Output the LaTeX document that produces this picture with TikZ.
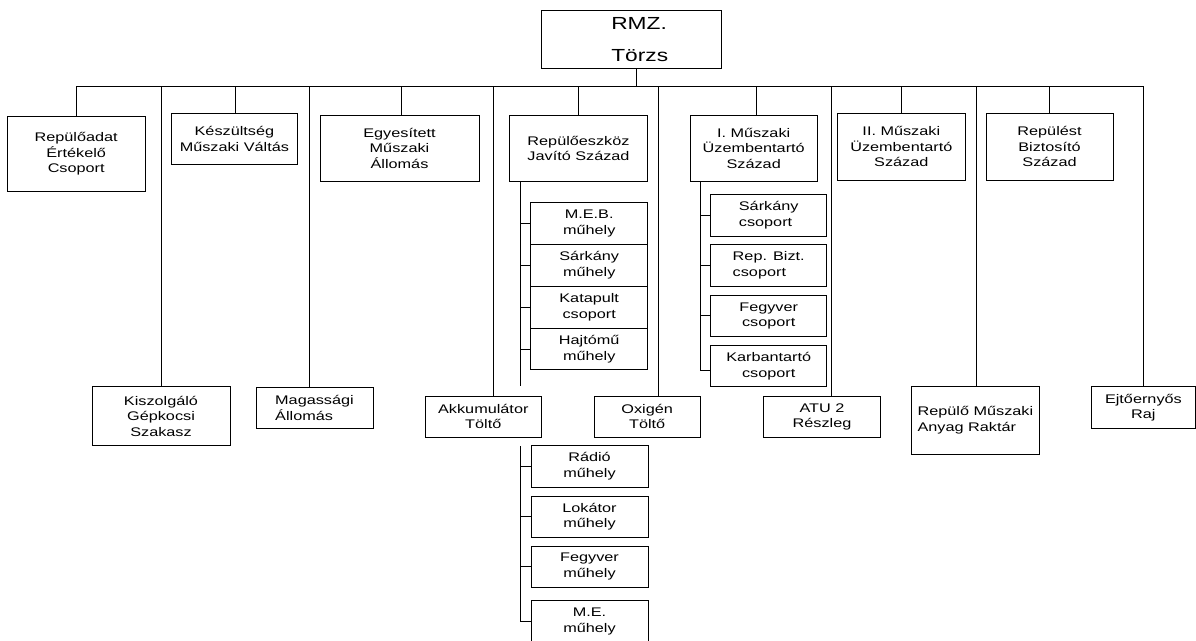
\documentclass[tikz,border=0pt]{standalone}
\usepackage{fontspec}
\setmainfont{Liberation Sans}[FakeStretch=1.3]
\begin{document}
\begin{tikzpicture}[x=1pt,y=-1pt,
  box/.style={draw=black, line width=0.9pt, inner sep=0pt, align=center,
    font=\fontsize{12.5}{15.5}\selectfont},
  lbox/.style={box, align=left},
  conn/.style={draw=black, line width=0.9pt}]
\useasboundingbox (0,0) rectangle (1196,640);
\fill[white] (0,0) rectangle (1196,640);

% top node
\node[box, minimum width=180pt, minimum height=57.6pt, align=left,
  font=\fontsize{17.5}{32}\selectfont] (rmz) at (631.7,39.5)
  {\hspace*{16pt}RMZ.\\\hspace*{16pt}Törzs};

% first row
\node[box, minimum width=137.7pt, minimum height=75.7pt] (a1) at (76.2,153.9) {Repülőadat\\Értékelő\\Csoport};
\node[box, minimum width=125.3pt, minimum height=50.5pt] (a2) at (234.4,138.8) {Készültség\\Műszaki Váltás};
\node[box, minimum width=159pt, minimum height=66.7pt] (a3) at (399.5,148.3) {Egyesített\\Műszaki\\Állomás};
\node[box, minimum width=138pt, minimum height=66.7pt] (a4) at (578.5,148.3) {Repülőeszköz\\Javító Század};
\node[box, minimum width=127.5pt, minimum height=66.7pt] (a5) at (753.7,148.3) {I. Műszaki\\Üzembentartó\\Század};
\node[box, minimum width=127.4pt, minimum height=66.7pt] (a6) at (901.3,146.7) {II. Műszaki\\Üzembentartó\\Század};
\node[box, minimum width=127pt, minimum height=66.7pt] (a7) at (1049.5,146.7) {Repülést\\Biztosító\\Század};

% lower row
\node[box, minimum width=138pt, minimum height=58.6pt] (b1) at (161,416) {Kiszolgáló\\Gépkocsi\\Szakasz};
\node[lbox, minimum width=117pt, minimum height=41.7pt] (b2) at (314.5,407.8) {Magassági\\Állomás};
\node[box, minimum width=116.7pt, minimum height=41.3pt] (b3) at (483.3,416.7) {Akkumulátor\\Töltő};
\node[box, minimum width=105.7pt, minimum height=41.3pt] (b4) at (647.2,416.7) {Oxigén\\Töltő};
\node[box, minimum width=117pt, minimum height=41.3pt] (b5) at (822,416.7) {ATU 2\\Részleg};
\node[lbox, minimum width=127.2pt, minimum height=67.3pt] (b6) at (975.4,420.3) {Repülő Műszaki\\Anyag Raktár};
\node[box, minimum width=103.6pt, minimum height=41.6pt] (b7) at (1143.4,407.5) {Ejtőernyős\\Raj};

% stack under Repülőeszköz Javító Század
\node[box, minimum width=117pt, minimum height=41.8pt] (m1) at (589.2,223.6) {M.E.B.\\műhely};
\node[box, minimum width=117pt, minimum height=41.8pt] (m2) at (589.2,265.4) {Sárkány\\műhely};
\node[box, minimum width=117pt, minimum height=41.8pt] (m3) at (589.2,307.2) {Katapult\\csoport};
\node[box, minimum width=117pt, minimum height=41.8pt] (m4) at (589.2,349.0) {Hajtómű\\műhely};

% second stack
\node[box, minimum width=117pt, minimum height=42pt] (r1) at (589.5,466) {Rádió\\műhely};
\node[box, minimum width=117pt, minimum height=41.3pt] (r2) at (589.5,516.7) {Lokátor\\műhely};
\node[box, minimum width=117pt, minimum height=41.3pt] (r3) at (589.5,566.7) {Fegyver\\műhely};
\node[box, minimum width=117pt, minimum height=41.5pt] (r4) at (589.5,621.5) {M.E.\\műhely};

% stack under I. Műszaki Üzembentartó Század
\node[lbox, minimum width=116pt, minimum height=42pt] (s1) at (768.7,215) {Sárkány\\csoport};
\node[lbox, minimum width=116pt, minimum height=42.4pt] (s2) at (768.7,265.5) {Rep. Bizt.\\csoport};
\node[box, minimum width=116pt, minimum height=41.7pt] (s3) at (768.7,315.9) {Fegyver\\csoport};
\node[box, minimum width=116pt, minimum height=41pt] (s4) at (768.7,366.2) {Karbantartó\\csoport};

% bus coordinates
\coordinate (d0) at (636.9,86);
\coordinate (d1) at (76.7,86);
\coordinate (d2) at (235,86);
\coordinate (d3) at (401.5,86);
\coordinate (d4) at (578.5,86);
\coordinate (d5) at (756,86);
\coordinate (d6) at (901.5,86);
\coordinate (d7) at (1049,86);
\coordinate (e1) at (161.5,86);
\coordinate (e2) at (309.6,86);
\coordinate (e3) at (493.3,86);
\coordinate (e4) at (658,86);
\coordinate (e5) at (831.5,86);
\coordinate (e6) at (976,86);
\coordinate (e7) at (1143.5,86);

\draw[conn] (d1) -- (e7);
\draw[conn] (d0 |- rmz.south) -- (d0);
\foreach \d/\n in {d1/a1,d2/a2,d3/a3,d4/a4,d5/a5,d6/a6,d7/a7,
                   e1/b1,e2/b2,e3/b3,e4/b4,e5/b5,e6/b6,e7/b7}
  \draw[conn] (\d) -- (\d |- \n.north);

% brackets
\coordinate (k1) at (520.5,181.7);
\coordinate (k1e) at (520.5,386);
\draw[conn] (k1 |- a4.south) -- (k1e);
\foreach \n in {m1,m2,m3,m4}
  \draw[conn] (\n.west) -- (\n.west -| k1);

\coordinate (k2) at (520.5,446);
\draw[conn] (k2) |- (r4.west);
\foreach \n in {r1,r2,r3}
  \draw[conn] (\n.west) -- (\n.west -| k2);

\coordinate (k3) at (700.8,181.7);
\draw[conn] (k3 |- a5.south) |- ([yshift=-4pt]s4.west);
\foreach \n in {s1,s2,s3}
  \draw[conn] (\n.west) -- (\n.west -| k3);
\end{tikzpicture}
\end{document}
